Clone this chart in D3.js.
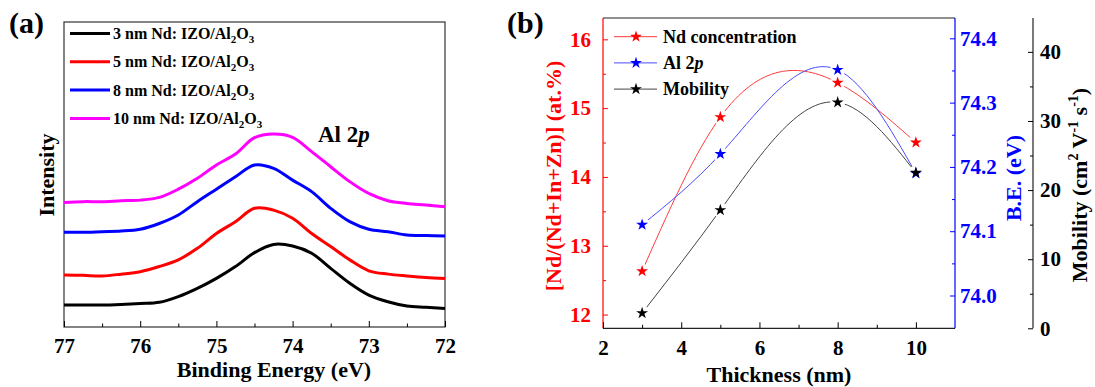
<!DOCTYPE html>
<html>
<head>
<meta charset="utf-8">
<script src="https://cdn.jsdelivr.net/npm/d3@7"></script>
<style>
  body { margin: 0; background: #fff; }
  svg { display: block; font-family: "Liberation Serif", "Times New Roman", serif; font-weight: bold; }
</style>
</head>
<body>
<svg id="chart" width="1095" height="387"></svg>
<script>
// ---------- panel (a) data : Al 2p spectra (intensity in a.u.) ----------
const energy = [77, 76.75, 76.5, 76.25, 76, 75.75, 75.5, 75.25, 75, 74.75, 74.5,
                74.25, 74, 73.75, 73.5, 73.25, 73, 72.75, 72.5, 72.25, 72];
const spec3nm  = [6.9, 6.9, 6.9, 7.1, 7.4, 7.8, 9.7, 12.4, 15.7, 19.6, 24.2, 26.9, 26.4, 24.0, 19.0, 14.1, 10.2, 8.0, 6.6, 6.2, 5.8];
const spec5nm  = [16.8, 16.7, 16.5, 17.1, 17.9, 19.6, 21.8, 25.6, 30.5, 34.4, 38.8, 38.2, 35.5, 30.5, 26.2, 21.8, 18.2, 17.1, 16.5, 16.0, 15.7];
const spec8nm  = [30.9, 30.9, 31.1, 31.3, 31.9, 33.8, 36.6, 41.0, 45.1, 49.2, 53.1, 52.0, 48.1, 44.3, 38.8, 34.4, 31.9, 31.1, 30.0, 29.8, 29.7];
const spec10nm = [40.7, 41.0, 41.0, 41.3, 41.5, 42.4, 45.1, 48.7, 53.1, 56.7, 62.1, 63.3, 62.2, 57.5, 52.5, 47.6, 43.7, 41.3, 40.4, 39.9, 39.3];
const specNames  = ["3 nm", "5 nm", "8 nm", "10 nm"];
const specColors = ["#000000", "#ff0000", "#0000ff", "#ff00ff"];
const energyMajor = [77, 76, 75, 74, 73, 72];
const energyMinor = [76.5, 75.5, 74.5, 73.5, 72.5];

// ---------- panel (b) data ----------
const thickness = [3, 5, 8, 10];
const ndConc    = [12.63, 14.87, 15.37, 14.50];   // at.%
const al2pBE    = [74.110, 74.220, 74.351, 74.190]; // eV
const mobility  = [2.2, 17.1, 32.7, 22.5];        // cm2/Vs
const thickMajor = [2, 4, 6, 8, 10];
const thickMinor = [3, 5, 7, 9];
const ndTicks    = [12, 13, 14, 15, 16];
const ndMinor    = [12.5, 13.5, 14.5, 15.5];
const beTicks    = [74.0, 74.1, 74.2, 74.3, 74.4];
const beMinor    = [74.05, 74.15, 74.25, 74.35];
const moTicks    = [0, 10, 20, 30, 40];
const moMinor    = [5, 15, 25, 35];

const FONT = '"Liberation Serif", "Times New Roman", serif';
const svg = d3.select("#chart");

function styleAxis(g, color, size) {
  g.attr("font-family", FONT).attr("font-size", null);
  g.select(".domain").remove();
  g.selectAll("line").attr("stroke", color);
  g.selectAll("text").attr("font-size", size).attr("fill", color)
    .attr("font-family", FONT).attr("font-weight", "bold");
}

// natural cubic spline in x (like Origin's "Spline" connector), drawn as exact Bezier segments
function curveSplineX(context) {
  let xs, ys;
  return {
    areaStart() {}, areaEnd() {},
    lineStart() { xs = []; ys = []; },
    point(x, y) { xs.push(+x); ys.push(+y); },
    lineEnd() {
      const n = xs.length;
      if (!n) return;
      context.moveTo(xs[0], ys[0]);
      if (n < 3) { for (let i = 1; i < n; i++) context.lineTo(xs[i], ys[i]); return; }
      const h = [], s = [];
      for (let i = 0; i < n - 1; i++) { h.push(xs[i + 1] - xs[i]); s.push((ys[i + 1] - ys[i]) / h[i]); }
      // tridiagonal solve for second derivatives M (M0 = Mn-1 = 0)
      const M = new Array(n).fill(0), a = [], b = [], c = [], r = [];
      for (let i = 1; i < n - 1; i++) {
        a.push(h[i - 1]); b.push(2 * (h[i - 1] + h[i])); c.push(h[i]); r.push(6 * (s[i] - s[i - 1]));
      }
      const m = b.length;
      for (let i = 1; i < m; i++) { const w = a[i] / b[i - 1]; b[i] -= w * c[i - 1]; r[i] -= w * r[i - 1]; }
      const sol = new Array(m);
      sol[m - 1] = r[m - 1] / b[m - 1];
      for (let i = m - 2; i >= 0; i--) sol[i] = (r[i] - c[i] * sol[i + 1]) / b[i];
      for (let i = 0; i < m; i++) M[i + 1] = sol[i];
      for (let i = 0; i < n - 1; i++) {
        const d0 = s[i] - h[i] * (2 * M[i] + M[i + 1]) / 6;
        const d1 = s[i] + h[i] * (M[i] + 2 * M[i + 1]) / 6;
        context.bezierCurveTo(xs[i] + h[i] / 3, ys[i] + d0 * h[i] / 3,
                              xs[i + 1] - h[i] / 3, ys[i + 1] - d1 * h[i] / 3,
                              xs[i + 1], ys[i + 1]);
      }
    }
  };
}

// ====================== panel (a) ======================
const A = { l: 64, r: 445, t: 22, b: 327 };
const xA = d3.scaleLinear().domain([77, 72]).range([A.l, A.r]);
const yA = d3.scaleLinear().domain([0, 100]).range([326, 22.7]);
const gA = svg.append("g");

gA.append("rect")
  .attr("x", A.l).attr("y", A.t).attr("width", A.r - A.l).attr("height", A.b - A.t)
  .attr("fill", "none").attr("stroke", "#333").attr("stroke-width", 1.2);

gA.append("g").attr("transform", `translate(0,${A.b})`)
  .call(d3.axisBottom(xA).tickValues(energyMajor).tickSize(-6).tickPadding(11).tickFormat(d3.format("d")))
  .call(g => styleAxis(g, "#000", 21));
gA.append("g").attr("transform", `translate(0,${A.b})`)
  .call(d3.axisBottom(xA).tickValues(energyMinor).tickSize(-3.5).tickFormat(""))
  .call(g => styleAxis(g, "#000", 21));

const lineA = d3.line().x((d, i) => xA(energy[i])).y(d => yA(d)).curve(d3.curveCatmullRom);
[spec3nm, spec5nm, spec8nm, spec10nm].forEach((s, k) => {
  gA.append("path").datum(s)
    .attr("d", lineA).attr("fill", "none")
    .attr("stroke", specColors[k]).attr("stroke-width", 3).attr("stroke-linejoin", "round");
});

// legend (a)
specNames.forEach((n, k) => {
  const y = 33.5 + k * 28.3;
  gA.append("line").attr("x1", 70).attr("x2", 110).attr("y1", y).attr("y2", y)
    .attr("stroke", specColors[k]).attr("stroke-width", 3);
  const t = gA.append("text").attr("x", 113).attr("y", y + 5.5).attr("font-size", 16);
  t.append("tspan").text(n + " Nd: IZO/Al");
  t.append("tspan").attr("font-size", 11).attr("dy", 4).text("2");
  t.append("tspan").attr("dy", -4).text("O");
  t.append("tspan").attr("font-size", 11).attr("dy", 4).text("3");
});

const alLab = gA.append("text").attr("x", 318).attr("y", 142).attr("font-size", 23);
alLab.append("tspan").text("Al 2");
alLab.append("tspan").attr("font-style", "italic").text("p");

gA.append("text").attr("x", 274).attr("y", 377).attr("text-anchor", "middle")
  .attr("font-size", 22).text("Binding Energy (eV)");
gA.append("text").attr("transform", "translate(54,175) rotate(-90)").attr("text-anchor", "middle")
  .attr("font-size", 22).text("Intensity");
gA.append("text").attr("x", 9).attr("y", 33).attr("font-size", 30).text("(a)");

// ====================== panel (b) ======================
const B = { l: 603, r: 955, t: 18, b: 328.3 };
const xB  = d3.scaleLinear().domain([2, 11]).range([B.l, B.r]);
const yNd = d3.scaleLinear().domain([11.8, 16.31]).range([B.b, B.t]);
const yBE = d3.scaleLinear().domain([73.949, 74.4316]).range([B.b, B.t]);
const yMo = d3.scaleLinear().domain([0, 44.9]).range([B.b, B.t]);
const gB = svg.append("g");

// frame lines
gB.append("line").attr("x1", B.l).attr("x2", B.r).attr("y1", B.t).attr("y2", B.t).attr("stroke", "#222").attr("stroke-width", 1.2);
gB.append("line").attr("x1", B.l).attr("x2", B.r).attr("y1", B.b).attr("y2", B.b).attr("stroke", "#222").attr("stroke-width", 1.2);
gB.append("line").attr("x1", B.l).attr("x2", B.l).attr("y1", B.t).attr("y2", B.b).attr("stroke", "#ff0000").attr("stroke-width", 1.2);
gB.append("line").attr("x1", B.r).attr("x2", B.r).attr("y1", B.t).attr("y2", B.b).attr("stroke", "#0000ff").attr("stroke-width", 1.2);
gB.append("line").attr("x1", 1033).attr("x2", 1033).attr("y1", B.t).attr("y2", B.b).attr("stroke", "#222").attr("stroke-width", 1.2);

// bottom axis
gB.append("g").attr("transform", `translate(0,${B.b})`)
  .call(d3.axisBottom(xB).tickValues(thickMajor).tickSize(-6).tickPadding(11.5).tickFormat(d3.format("d")))
  .call(g => styleAxis(g, "#000", 21));
gB.append("g").attr("transform", `translate(0,${B.b})`)
  .call(d3.axisBottom(xB).tickValues(thickMinor).tickSize(-3.5).tickFormat(""))
  .call(g => styleAxis(g, "#000", 21));

// left axis (Nd)
gB.append("g").attr("transform", `translate(${B.l},0)`)
  .call(d3.axisLeft(yNd).tickValues(ndTicks).tickSize(-5).tickPadding(12).tickFormat(d3.format("d")))
  .call(g => styleAxis(g, "#ff0000", 21));
gB.append("g").attr("transform", `translate(${B.l},0)`)
  .call(d3.axisLeft(yNd).tickValues(ndMinor).tickSize(-3).tickFormat(""))
  .call(g => styleAxis(g, "#ff0000", 21));

// right axis (B.E.)
gB.append("g").attr("transform", `translate(${B.r},0)`)
  .call(d3.axisRight(yBE).tickValues(beTicks).tickSize(-5).tickPadding(5).tickFormat(d3.format(".1f")))
  .call(g => styleAxis(g, "#0000ff", 21));
gB.append("g").attr("transform", `translate(${B.r},0)`)
  .call(d3.axisRight(yBE).tickValues(beMinor).tickSize(-3).tickFormat(""))
  .call(g => styleAxis(g, "#0000ff", 21));

// offset right axis (mobility)
gB.append("g").attr("transform", "translate(1033,0)")
  .call(d3.axisRight(yMo).tickValues(moTicks).tickSize(-5).tickPadding(7).tickFormat(d3.format("d")))
  .call(g => styleAxis(g, "#000", 21));
gB.append("g").attr("transform", "translate(1033,0)")
  .call(d3.axisRight(yMo).tickValues(moMinor).tickSize(-3).tickFormat(""))
  .call(g => styleAxis(g, "#000", 21));

// spline series with gaps around symbols
const series = [
  { name: "nd", vals: ndConc,   y: yNd, color: "#ff0000", line: "#ff3b3b" },
  { name: "be", vals: al2pBE,   y: yBE, color: "#0000ff", line: "#4b4bff" },
  { name: "mo", vals: mobility, y: yMo, color: "#000000", line: "#444444" }
];
const defs = svg.append("defs");
const star = d3.symbol().type(d3.symbolStar).size(44);

series.forEach(s => {
  const m = defs.append("mask").attr("id", "gap-" + s.name).attr("maskUnits", "userSpaceOnUse");
  m.append("rect").attr("x", 0).attr("y", 0).attr("width", 1095).attr("height", 387).attr("fill", "#fff");
  thickness.forEach((t, i) => {
    m.append("circle").attr("cx", xB(t)).attr("cy", s.y(s.vals[i])).attr("r", 7.5).attr("fill", "#000");
  });
  const ln = d3.line().x((d, i) => xB(thickness[i])).y(d => s.y(d)).curve(curveSplineX);
  gB.append("path").datum(s.vals)
    .attr("d", ln).attr("fill", "none").attr("stroke", s.line).attr("stroke-width", 1)
    .attr("mask", `url(#gap-${s.name})`);
});
series.forEach(s => {
  gB.selectAll(null).data(s.vals).join("path")
    .attr("d", star)
    .attr("transform", (d, i) => `translate(${xB(thickness[i])},${s.y(d)})`)
    .attr("fill", s.color);
});

// legend (b)
const legB = [
  { label: ["Nd concentration"], color: "#ff0000", line: "#ff3b3b" },
  { label: ["Al 2", "p"], color: "#0000ff", line: "#4b4bff" },
  { label: ["Mobility"], color: "#000000", line: "#444444" }
];
legB.forEach((L, k) => {
  const y = 36.7 + k * 26.2;
  gB.append("line").attr("x1", 614).attr("x2", 657).attr("y1", y).attr("y2", y)
    .attr("stroke", L.line).attr("stroke-width", 1);
  gB.append("path").attr("d", star).attr("transform", `translate(636,${y})`).attr("fill", L.color);
  const t = gB.append("text").attr("x", 663).attr("y", y + 6).attr("font-size", 18);
  t.append("tspan").text(L.label[0]);
  if (L.label[1]) t.append("tspan").attr("font-style", "italic").text(L.label[1]);
});

// axis titles
gB.append("text").attr("x", 779).attr("y", 382).attr("text-anchor", "middle")
  .attr("font-size", 22).text("Thickness (nm)");
gB.append("text").attr("transform", "translate(561,176) rotate(-90)").attr("text-anchor", "middle")
  .attr("font-size", 22).attr("fill", "#ff0000").text("[Nd/(Nd+In+Zn)] (at.%)");
gB.append("text").attr("transform", "translate(1021,178) rotate(-90)").attr("text-anchor", "middle")
  .attr("font-size", 22).attr("fill", "#0000ff").text("B.E. (eV)");
const mt = gB.append("text").attr("transform", "translate(1087,185) rotate(-90)").attr("text-anchor", "middle")
  .attr("font-size", 22).attr("fill", "#000");
mt.append("tspan").text("Mobility (cm");
mt.append("tspan").attr("font-size", 14).attr("dy", -9).text("2");
mt.append("tspan").attr("dy", 9).text(" V");
mt.append("tspan").attr("font-size", 14).attr("dy", -9).text("-1");
mt.append("tspan").attr("dy", 9).text(" s");
mt.append("tspan").attr("font-size", 14).attr("dy", -9).text("-1");
mt.append("tspan").attr("dy", 9).text(")");

gB.append("text").attr("x", 507).attr("y", 33).attr("font-size", 30).text("(b)");
</script>
</body>
</html>
